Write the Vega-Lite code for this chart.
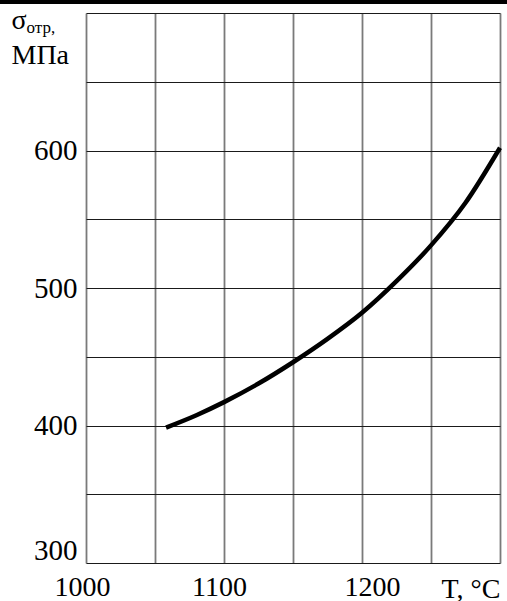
{
  "$schema": "https://vega.github.io/schema/vega-lite/v6.json",
  "width": 414,
  "height": 550,
  "autosize": {"type": "none"},
  "padding": {"left": 86, "top": 13, "right": 7, "bottom": 38},
  "background": "white",
  "config": {"view": {"stroke": null}, "font": "Liberation Serif"},
  "title": {
    "text": "отр,",
    "anchor": "start",
    "frame": "group",
    "orient": "top",
    "baseline": "alphabetic",
    "dx": -59.5,
    "dy": 28,
    "offset": -21,
    "font": "Liberation Serif",
    "fontSize": 17,
    "fontWeight": "normal",
    "color": "black"
  },
  "data": {
    "values": [
      {"T": 1058, "s": 398.5},
      {"T": 1080, "s": 407.5},
      {"T": 1100, "s": 417},
      {"T": 1125, "s": 430.5},
      {"T": 1150, "s": 446},
      {"T": 1175, "s": 463},
      {"T": 1200, "s": 482},
      {"T": 1225, "s": 505},
      {"T": 1250, "s": 531},
      {"T": 1275, "s": 562},
      {"T": 1300, "s": 602}
    ]
  },
  "layer": [
    {
      "mark": {"type": "line", "color": "black", "strokeWidth": 4.5, "interpolate": "monotone", "strokeCap": "butt"},
      "encoding": {
        "x": {
          "field": "T",
          "type": "quantitative",
          "scale": {"domain": [1000, 1300], "nice": false, "zero": false},
          "axis": {
            "values": [1000, 1050, 1100, 1150, 1200, 1250, 1300],
            "labelExpr": "(datum.value == 1000 || datum.value == 1100 || datum.value == 1200) ? datum.label : ''",
            "format": "d",
            "domain": false,
            "ticks": false,
            "tickSize": 0,
            "grid": true,
            "gridColor": "#7a7a7a",
            "gridWidth": 1.8,
            "gridOpacity": 1,
            "labelFont": "Liberation Serif",
            "labelFontSize": 28,
            "labelColor": "black",
            "labelBaseline": "top",
            "labelPadding": 10,
            "labelFlush": false,
            "labelOverlap": false,
            "labelOffset": {"condition": [{"test": "datum.value == 1200", "value": 10}, {"test": "datum.value == 1100", "value": -5}], "value": -4},
            "title": "T, °C",
            "titleFont": "Liberation Serif",
            "titleFontSize": 28,
            "titleFontWeight": "normal",
            "titleColor": "black",
            "titleAlign": "left",
            "titleBaseline": "alphabetic",
            "titleAnchor": "start",
            "titleX": 355,
            "titleY": 34
          }
        },
        "y": {
          "field": "s",
          "type": "quantitative",
          "scale": {"domain": [300, 700], "nice": false, "zero": false},
          "axis": {
            "values": [300, 350, 400, 450, 500, 550, 600, 650, 700],
            "labelExpr": "(datum.value % 100 == 0 && datum.value < 700) ? datum.label : ''",
            "domain": false,
            "ticks": false,
            "tickSize": 0,
            "grid": true,
            "gridColor": "#1a1a1a",
            "gridWidth": 1.2,
            "gridOpacity": 1,
            "labelFont": "Liberation Serif",
            "labelFontSize": 29,
            "labelColor": "black",
            "labelPadding": 9,
            "labelFlush": true,
            "labelFlushOffset": 2,
            "labelOverlap": false,
            "title": ["σ", "МПа"],
            "titleFont": "Liberation Serif",
            "titleFontSize": 28,
            "titleFontWeight": "normal",
            "titleColor": "black",
            "titleAngle": 0,
            "titleAlign": "left",
            "titleBaseline": "alphabetic",
            "titleAnchor": "start",
            "titleLineHeight": 35,
            "titleX": -75,
            "titleY": 15
          }
        }
      }
    },
    {
      "mark": {"type": "rule", "color": "black", "strokeWidth": 3, "clip": false},
      "encoding": {
        "x": {"datum": 937.5},
        "x2": {"datum": 1306},
        "y": {"datum": 708}
      }
    }
  ]
}
